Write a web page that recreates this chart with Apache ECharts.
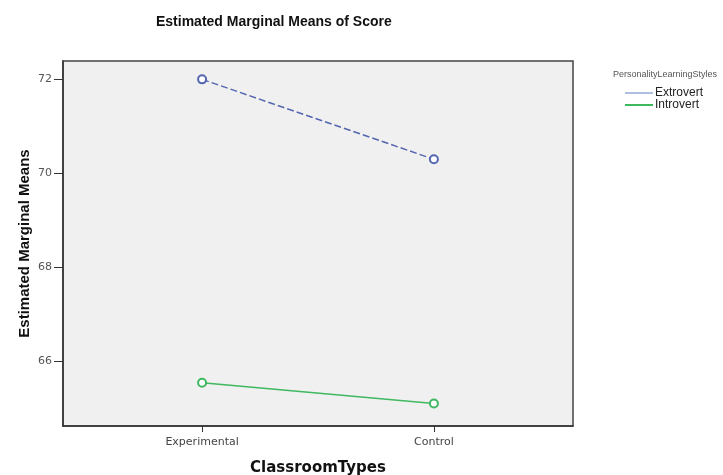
<!DOCTYPE html>
<html>
<head>
<meta charset="utf-8">
<script src="https://cdn.jsdelivr.net/npm/echarts@6/dist/echarts.min.js"></script>
<style>
html,body{margin:0;padding:0;background:#fff;}
#chart{width:723px;height:475px;}
</style>
</head>
<body>
<div id="chart"></div>
<script>
const categories = ['Experimental', 'Control'];
const seriesNames = ['Extrovert', 'Introvert'];
const extrovertValues = [72.0, 70.3];
const introvertValues = [65.55, 65.11];
const yTicks = [66, 68, 70, 72];

const chart = echarts.init(document.getElementById('chart'));
const toPoints = vals => vals.map((v, i) => [i, v]);
const catIdx = categories.map((c, i) => i);

chart.setOption({
  animation: false,
  backgroundColor: '#ffffff',
  title: [
    {
      text: 'Estimated Marginal Means of Score',
      left: 151, top: 10,
      textStyle: { fontFamily: 'Liberation Sans', fontSize: 14, fontWeight: 'bold', color: '#111' }
    },
    {
      text: 'PersonalityLearningStyles',
      left: 608, top: 65,
      textStyle: { fontFamily: 'Liberation Sans', fontSize: 9, fontWeight: 'normal', color: '#555' }
    }
  ],
  legend: {
    orient: 'vertical',
    left: 620, top: 82,
    itemWidth: 28, itemHeight: 2, itemGap: 0,
    icon: 'rect',
    textStyle: { fontFamily: 'Liberation Sans', fontSize: 12, color: '#222', lineHeight: 11, padding: [0,0,0,-3] },
    data: [
      { name: seriesNames[0], itemStyle: { color: '#aebfe2' } },
      { name: seriesNames[1], itemStyle: { color: '#3fb860' } }
    ]
  },
  grid: {
    left: 63, right: 150, top: 61, bottom: 49,
    outerBoundsMode: 'none', containLabel: false,
    show: true, backgroundColor: '#f0f0f0', borderColor: '#444', borderWidth: 1.5
  },
  xAxis: {
    type: 'value', min: -0.6, max: 1.6,
    name: 'ClassroomTypes', nameLocation: 'middle', nameGap: 35, nameMoveOverlap: false,
    nameTextStyle: { fontFamily: 'DejaVu Sans', fontSize: 15, fontWeight: 'bold', color: '#111' },
    axisLine: { show: true, onZero: false, lineStyle: { color: '#333', width: 1.5 } },
    axisTick: { show: true, length: 6, customValues: catIdx, lineStyle: { color: '#333' } },
    axisLabel: {
      customValues: catIdx, margin: 11,
      fontFamily: 'DejaVu Sans', fontSize: 11, color: '#444',
      formatter: v => categories[Math.round(v)]
    },
    splitLine: { show: false }
  },
  yAxis: {
    type: 'value', min: 64.63, max: 72.39,
    name: 'Estimated Marginal Means', nameLocation: 'middle', nameGap: 31, nameMoveOverlap: false,
    nameTextStyle: { fontFamily: 'Liberation Sans', fontSize: 15, fontWeight: 'bold', color: '#111' },
    axisLine: { show: true, onZero: false, lineStyle: { color: '#333', width: 1.5 } },
    axisTick: { show: true, length: 9, customValues: yTicks, lineStyle: { color: '#333' } },
    axisLabel: { customValues: yTicks, margin: 11, fontFamily: 'DejaVu Sans', fontSize: 11, color: '#555' },
    splitLine: { show: false }
  },
  series: [
    {
      name: seriesNames[0], type: 'line', data: toPoints(extrovertValues),
      symbol: 'emptyCircle', symbolSize: 8,
      itemStyle: { color: '#5566b0', borderWidth: 1.2 },
      lineStyle: { color: '#5566b0', width: 1.5, type: [7, 3] }
    },
    {
      name: seriesNames[1], type: 'line', data: toPoints(introvertValues),
      symbol: 'emptyCircle', symbolSize: 8,
      itemStyle: { color: '#3fb860', borderWidth: 1.2 },
      lineStyle: { color: '#3fb860', width: 1.5 }
    }
  ]
});
</script>
</body>
</html>
